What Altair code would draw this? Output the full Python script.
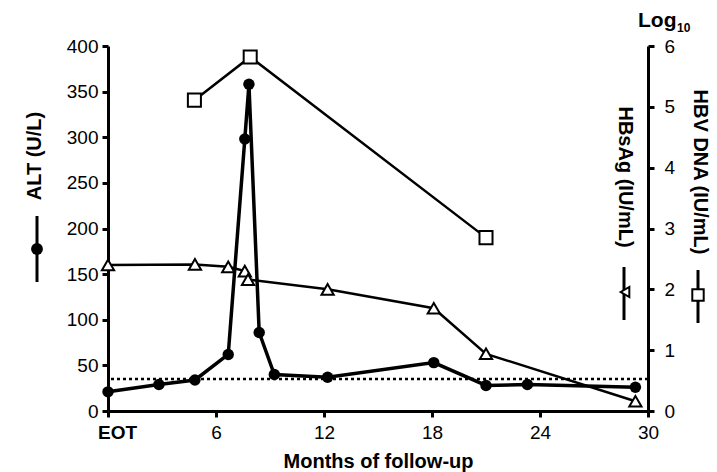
import altair as alt
import pandas as pd

# ---- data ----
months_alt = [0, 2.83, 4.83, 6.68, 7.6, 7.83, 8.4, 9.24, 12.2, 18.1, 21.0, 23.3, 29.3]
alt_values = [21, 29, 34, 62, 298, 358, 86, 40, 37, 53, 28, 29, 26]

months_hbsag = [0, 4.83, 6.68, 7.6, 7.78, 12.2, 18.1, 21.0, 29.3]
hbsag_log = [2.40, 2.41, 2.37, 2.30, 2.16, 2.0, 1.69, 0.94, 0.16]

months_dna = [4.8, 7.9, 21.0]
dna_log = [5.11, 5.82, 2.85]

alt_uln = [35]

x_ticks = [0, 6, 12, 18, 24, 30]
alt_ticks = [0, 50, 100, 150, 200, 250, 300, 350, 400]
log_ticks = [0, 1, 2, 3, 4, 5, 6]

df_alt = pd.DataFrame({"m": months_alt, "v": alt_values})
df_hbs = pd.DataFrame({"m": months_hbsag, "v": hbsag_log})
df_dna = pd.DataFrame({"m": months_dna, "v": dna_log})
df_uln = pd.DataFrame({"v": alt_uln})
one = pd.DataFrame({"k": [0]})

FONT = "Liberation Sans"

x_axis = alt.Axis(
    values=x_ticks,
    labelExpr="datum.value == 0 ? 'EOT' : datum.label",
    labelFontWeight={"condition": {"test": "datum.value == 0", "value": "bold"}, "value": "normal"},
    labelOffset={"condition": {"test": "datum.value == 0", "value": 9}, "value": 0},
    labelFlush=False,
    labelPadding=6,
    title="Months of follow-up",
    titleFont=FONT,
    titleFontSize=20,
    titleFontWeight="bold",
    titlePadding=9,
    titleColor="black",
)
X = lambda: alt.X("m:Q", scale=alt.Scale(domain=[0, 30], nice=False), axis=x_axis)

yl_scale = alt.Scale(domain=[0, 400], nice=False)
yl_axis = alt.Axis(values=alt_ticks, title=None, orient="left", labelPadding=4)
yr_scale = alt.Scale(domain=[0, 6], nice=False)
yr_axis = alt.Axis(values=log_ticks, title=None, orient="right", labelPadding=10)

# right-axis series
hbs_line = alt.Chart(df_hbs).mark_line(color="black", strokeWidth=2.5).encode(
    x=X(), y=alt.Y("v:Q", scale=yr_scale, axis=yr_axis))
hbs_pts = alt.Chart(df_hbs).mark_point(shape="triangle-up", filled=True, fill="white",
                                       stroke="black", strokeWidth=2, size=150, opacity=1).encode(
    x=X(), y=alt.Y("v:Q", scale=yr_scale, axis=yr_axis))
dna_line = alt.Chart(df_dna).mark_line(color="black", strokeWidth=2.5).encode(
    x=X(), y=alt.Y("v:Q", scale=yr_scale, axis=yr_axis))
dna_pts = alt.Chart(df_dna).mark_point(shape="square", filled=True, fill="white",
                                       stroke="black", strokeWidth=2, size=170, opacity=1).encode(
    x=X(), y=alt.Y("v:Q", scale=yr_scale, axis=yr_axis))
right = alt.layer(hbs_line, dna_line, hbs_pts, dna_pts)

# left-axis series
uln = alt.Chart(df_uln).mark_rule(color="black", strokeWidth=2.5, strokeDash=[3, 3]).encode(
    y=alt.Y("v:Q", scale=yl_scale, axis=yl_axis))
alt_line = alt.Chart(df_alt).mark_line(color="black", strokeWidth=3.5).encode(
    x=X(), y=alt.Y("v:Q", scale=yl_scale, axis=yl_axis))
alt_pts = alt.Chart(df_alt).mark_circle(color="black", size=130, opacity=1).encode(
    x=X(), y=alt.Y("v:Q", scale=yl_scale, axis=yl_axis))
left = alt.layer(uln, alt_line, alt_pts)

# annotations (titles + legend glyphs)
def txt(s, x, y, size=20, angle=0, align="center", weight="bold", baseline="middle"):
    return alt.Chart(one).mark_text(text=s, font=FONT, fontSize=size, fontWeight=weight,
                                    angle=angle, align=align, baseline=baseline,
                                    color="black").encode(x=alt.value(x), y=alt.value(y))

def vrule(x, y1, y2):
    return alt.Chart(one).mark_rule(color="black", strokeWidth=3).encode(
        x=alt.value(x), y=alt.value(y1), y2=alt.value(y2))

ann = alt.layer(
    txt("ALT (U/L)", -73, 110, angle=270),
    vrule(-71, 170, 236),
    alt.Chart(one).mark_circle(color="black", size=140, opacity=1).encode(
        x=alt.value(-71), y=alt.value(203)),
    txt("HBsAg (IU/mL)", 517, 131, angle=90),
    vrule(516, 221, 274),
    alt.Chart(one).mark_point(shape="triangle-left", filled=True, fill="white", stroke="black",
                              strokeWidth=2, size=100, opacity=1).encode(
        x=alt.value(517), y=alt.value(246)),
    txt("HBV DNA (IU/mL)", 592, 126, angle=90),
    vrule(590, 224, 277),
    alt.Chart(one).mark_point(shape="square", filled=True, fill="white", stroke="black",
                              strokeWidth=2, size=130, opacity=1).encode(
        x=alt.value(590), y=alt.value(249)),
    txt("Log", 530, -19, size=21, align="left", baseline="alphabetic"),
    txt("10", 569, -14, size=12, align="left", baseline="alphabetic"),
)

chart = alt.layer(right, left, ann).resolve_scale(y="independent").properties(
    width=540, height=365,
    autosize=alt.AutoSizeParams(type="none"),
    padding={"left": 108, "top": 46, "right": 69, "bottom": 61},
).configure_view(stroke=None).configure_axis(
    grid=False, domainColor="black", domainWidth=3, tickColor="black", tickWidth=3,
    tickSize=6, labelFont=FONT, labelFontSize=19, labelColor="black",
)

chart.save("out.html", embed_options={"renderer": "svg", "actions": False})
